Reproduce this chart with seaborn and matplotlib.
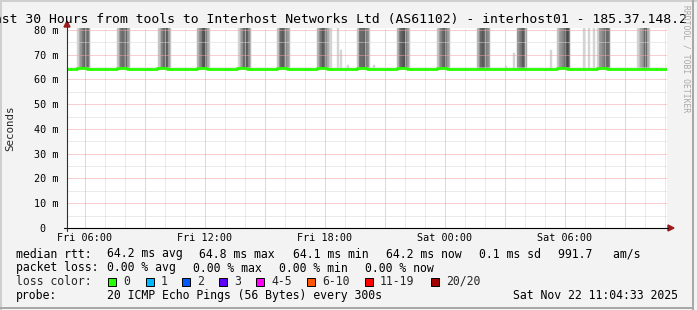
import numpy as np
import pandas as pd
import matplotlib
matplotlib.use("Agg")
import matplotlib.pyplot as plt
import seaborn as sns
from matplotlib.patches import Rectangle, Polygon
from matplotlib.lines import Line2D

# ---------------- data ----------------
start_hour = 5.1          # Fri 05:06 (hours since Fri 00:00)
end_hour = 35.1           # Sat 11:06
median_step = 0.5         # hours per median sample
median_rtt = [64.2, 64.6, 64.3, 64.2, 64.2, 64.5, 64.3, 64.2, 64.2, 64.5,
              64.3, 64.2, 64.2, 64.6, 64.2, 64.3, 64.2, 64.6, 64.4, 64.2,
              64.4, 64.5, 64.3, 64.4, 64.2, 64.5, 64.3, 64.2, 64.4, 64.6,
              64.4, 64.3, 64.2, 64.5, 64.3, 64.2, 64.2, 64.5, 64.3, 64.2,
              64.2, 64.3, 64.2, 64.2, 64.2, 64.3, 64.1, 64.2, 64.2, 64.5,
              64.3, 64.2, 64.3, 64.5, 64.2, 64.3, 64.2, 64.4, 64.3, 64.2]
high_ping = 120.0         # ms, pings above the graph top
probe_step = 5 / 60       # 300 s in hours
burst_start = [5.6, 7.6, 9.65, 11.6, 13.65, 15.6, 17.6, 19.6, 21.6, 23.6,
               25.6, 27.6, 29.6, 31.6, 33.6]
burst_high_counts = [
    [1, 3, 5, 7, 9, 6, 8, 4],
    [2, 4, 7, 8, 6, 9, 5, 3],
    [2, 3, 6, 8, 7, 9, 5, 2],
    [3, 5, 6, 9, 10, 7, 4, 2],
    [1, 3, 5, 8, 7, 9, 6, 3],
    [2, 5, 8, 9, 7, 6, 5, 3],
    [3, 5, 7, 9, 8, 6, 4, 2],
    [2, 7, 8, 8, 9, 7, 6, 2],
    [3, 6, 8, 9, 10, 7, 5, 2],
    [2, 4, 6, 8, 9, 7, 5, 3],
    [3, 5, 8, 9, 8, 7, 6, 4],
    [5, 6, 7, 9, 8, 4],
    [2, 4, 5, 6, 7, 9, 10, 6],
    [1, 4, 5, 6, 7, 8, 8, 6],
    [1, 2, 4, 5, 8, 9, 4, 2],
]
spike_hours = [18.25, 18.6, 18.75, 19.1, 20.4, 27.0, 27.4, 29.25, 30.9, 31.15, 31.4]
spike_tops = [120.0, 120.0, 72.0, 66.0, 66.0, 65.5, 70.5, 72.0, 120.0, 120.0, 120.0]

y_ticks = [0, 10, 20, 30, 40, 50, 60, 70, 80]
y_labels = ["0  ", "10 m", "20 m", "30 m", "40 m", "50 m", "60 m", "70 m", "80 m"]
x_label_hours = [6, 12, 18, 24, 30]
x_labels = ["Fri 06:00", "Fri 12:00", "Fri 18:00", "Sat 00:00", "Sat 06:00"]

title = "Last 30 Hours from tools to Interhost Networks Ltd (AS61102) - interhost01 - 185.37.148.2"
legend_rows = [
    [("median rtt:", 16), ("64.2 ms avg", 107), ("64.8 ms max", 199), ("64.1 ms min", 293),
     ("64.2 ms now", 386), ("0.1 ms sd", 479), ("991.7   am/s", 558)],
    [("packet loss:", 16), ("0.00 % avg", 107), ("0.00 % max", 193), ("0.00 % min", 279),
     ("0.00 % now", 365)],
    [("probe:", 16), ("20 ICMP Echo Pings (56 Bytes) every 300s", 107),
     ("Sat Nov 22 11:04:33 2025", 513)],
]
loss_labels = ["0", "1", "2", "3", "4-5", "6-10", "11-19", "20/20"]
loss_colors = ["#26ff00", "#00b8ff", "#0059ff", "#5e00ff", "#ff00ff", "#ff5500", "#ff0000", "#a10000"]
loss_box_x = [108, 146, 182, 219, 256, 307, 365, 431]

# ---------------- figure ----------------
sns.set_theme(style="white")
plt.rcParams["font.family"] = ["DejaVu Sans Mono", "DejaVu Sans"]

W, H = 697, 310
BG = "#f3f3f3"
fig = plt.figure(figsize=(W / 100, H / 100), dpi=100, facecolor=BG)
ax = fig.add_axes([67 / W, (H - 228) / H, 600 / W, 200 / H])
ax.set_facecolor("white")


def fx(x):
    return x / W


def fy(y):
    return 1 - y / H


# smoke
def gray(k):
    lvl = int(round(0xd4 - (min(k, 10) - 1) * (0xd4 - 0x4a) / 9))
    return "#%02x%02x%02x" % (lvl, lvl, lvl)


med_times = start_hour + median_step * np.arange(len(median_rtt))


def median_at(t):
    i = int(np.clip((t - start_hour) // median_step, 0, len(median_rtt) - 1))
    return median_rtt[i]


for bs, counts in zip(burst_start, burst_high_counts):
    for j, k in enumerate(counts):
        t0 = bs + j * probe_step
        m = median_at(t0)
        c = gray(k)
        ax.bar(t0, high_ping - m, bottom=m, width=probe_step, align="edge",
               color=c, edgecolor=c, linewidth=0.3, zorder=1)

for sh, st in zip(spike_hours, spike_tops):
    m = median_at(sh)
    c = gray(1)
    ax.bar(sh, st - m, bottom=m, width=probe_step, align="edge",
           color=c, edgecolor=c, linewidth=0.3, zorder=1)

# median line
df = pd.DataFrame({"hour": list(med_times) + [end_hour],
                   "rtt": median_rtt + [median_rtt[-1]]})
sns.lineplot(data=df, x="hour", y="rtt", ax=ax, drawstyle="steps-post",
             color="#26ff00", linewidth=2.0, zorder=4)

ax.set_xlim(start_hour, end_hour)
ax.set_ylim(0, 80.8)

# grid
ax.set_xticks(np.arange(6, 35, 3))
ax.set_xticks(np.arange(6, 36, 1), minor=True)
ax.set_xticklabels([x_labels[x_label_hours.index(h)] if h in x_label_hours else ""
                    for h in np.arange(6, 35, 3)])
ax.set_yticks(y_ticks)
ax.set_yticklabels(y_labels)
ax.set_yticks(np.arange(5, 80, 10), minor=True)
ax.set_axisbelow(False)
ax.grid(which="major", color="#f0a0a0", linestyle=(0, (1, 1)), linewidth=0.72, zorder=3)
ax.grid(which="minor", color="#d6d6d6", linestyle=(0, (1, 1)), linewidth=0.72, zorder=3)
ax.tick_params(axis="both", which="both", length=2, width=0.7, color="#a0a0a0",
               labelsize=7.3, labelcolor="black")
ax.tick_params(axis="y", pad=4.3)
ax.tick_params(axis="x", pad=1.5)
for s in ax.spines.values():
    s.set_visible(False)
ax.set_xlabel("")
ax.set_ylabel("")
fig.text(fx(10), fy(128), "Seconds", fontsize=7.8, rotation=90, ha="center", va="center")

# axes lines and arrows
fig.add_artist(Line2D([fx(64), fx(668)], [fy(228), fy(228)], color="black", lw=0.8))
fig.add_artist(Line2D([fx(67), fx(67)], [fy(231), fy(26)], color="#303030", lw=0.8))
fig.add_artist(Polygon([(fx(668), fy(225)), (fx(668), fy(231)), (fx(674), fy(228))],
                       closed=True, color="#9b1c1c", transform=fig.transFigure))
fig.add_artist(Polygon([(fx(64), fy(27)), (fx(70), fy(27)), (fx(67), fy(21))],
                       closed=True, color="#9b1c1c", transform=fig.transFigure))

# title
fig.text(fx(-14), fy(19), title, fontsize=9.45, ha="left", va="center", color="black")

# watermark
fig.text(fx(686), fy(5), "RRDTOOL / TOBI OETIKER", fontsize=5.8, rotation=-90,
         ha="center", va="top", color="#a8a8a8")

# legend
row_y = [254, 268, 295.5]
for yy, row in zip(row_y, legend_rows):
    for txt, xx in row:
        fig.text(fx(xx), fy(yy), txt, fontsize=8.3, ha="left", va="center", color="black")
fig.text(fx(16), fy(281.5), "loss color:", fontsize=8.3, ha="left", va="center")
for lbl, col, bx in zip(loss_labels, loss_colors, loss_box_x):
    fig.add_artist(Rectangle((fx(bx), fy(286)), 8 / W, 8 / H, facecolor=col,
                             edgecolor="black", linewidth=0.7, transform=fig.transFigure))
    fig.text(fx(bx + 15), fy(281.5), lbl, fontsize=8.3, ha="left", va="center")

# frame shading
fig.add_artist(Rectangle((0, 0), 2 / W, 1, facecolor="#cfcfcf", edgecolor="none",
                         transform=fig.transFigure))
fig.add_artist(Rectangle((0, 1 - 2 / H), 1, 2 / H, facecolor="#cfcfcf", edgecolor="none",
                         transform=fig.transFigure))
fig.add_artist(Rectangle((fx(692), 0), 2 / W, 1, facecolor="#a8a8a8", edgecolor="none",
                         transform=fig.transFigure))
fig.add_artist(Rectangle((0, fy(309)), fx(694), 2 / H, facecolor="#a8a8a8", edgecolor="none",
                         transform=fig.transFigure))

fig.savefig("out.png", dpi=100, facecolor=BG)
